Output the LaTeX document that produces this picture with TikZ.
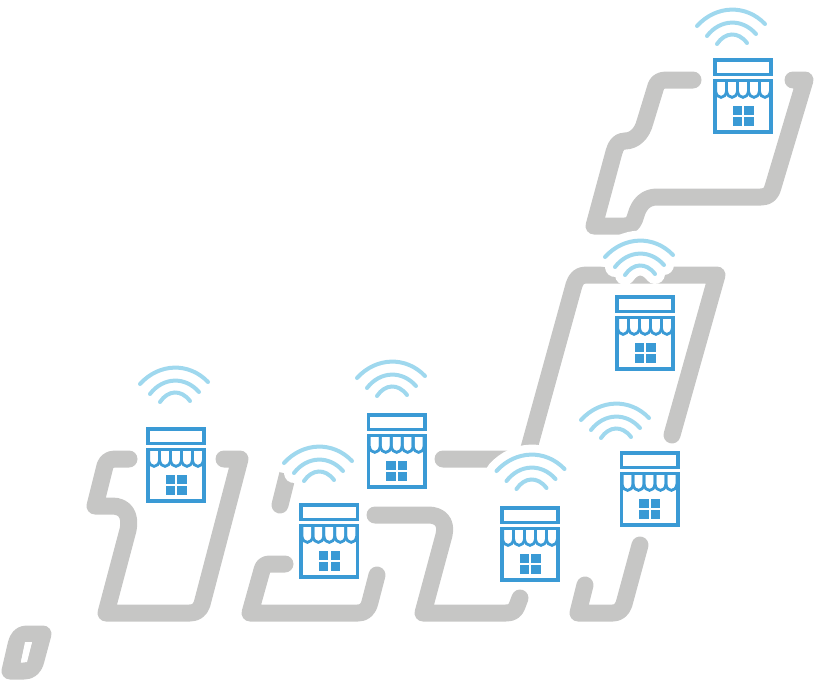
\documentclass[tikz,border=0pt]{standalone}
\definecolor{roadgrey}{HTML}{C6C6C5}
\definecolor{shopblue}{HTML}{3A9AD5}
\definecolor{wifiblue}{HTML}{9FD8EE}
\tikzset{
  road/.style={draw=roadgrey,line width=17pt,line cap=round,line join=round},
  wifiarc/.style={draw=wifiblue,line width=4pt,line cap=round},
  wifihalo/.style={draw=white,line width=20pt,line cap=round},
  shopline/.style={draw=shopblue,line width=3.6pt},
  awning/.style={draw=shopblue,line width=2.8pt},
  pane/.style={fill=shopblue,draw=none},
  pics/signal/.style={code={
    \draw[#1] (-34,16) .. controls (-15,-5) and (15,-6) .. (34,14);
    \draw[#1] (-24,26) .. controls (-11,9) and (11,8) .. (25,24);
    \draw[#1] (-14,34) .. controls (-6,22) and (7,21) .. (16,33);
  }},
  pics/shop/.style={code={
    \draw[shopline] (1.8,1.8) rectangle (58.2,16.5);
    \draw[shopline] (1.8,22.4) rectangle (58.2,74.2);
    \foreach \i in {0,...,4}{
      \pgfmathsetmacro{\xa}{2.6+\i*10.96}
      \pgfmathsetmacro{\xb}{\xa+10.96}
      \draw[awning] (\xa,22) -- (\xa,33) .. controls (\xa+1,41.5) and (\xb-1,41.5) .. (\xb,33) -- (\xb,22);
    }
    \fill[pane] (19.7,48.3) rectangle (29,57.3);
    \fill[pane] (31.3,48.3) rectangle (40.7,57.3);
    \fill[pane] (19.7,59.3) rectangle (29,68.3);
    \fill[pane] (31.3,59.3) rectangle (40.7,68.3);
  }}
}
\begin{document}
\begin{tikzpicture}[x=1pt,y=-1pt]
\useasboundingbox (0,0) rectangle (814,680);
% roads
\draw[road] (129,459) -- (115,459) .. controls (108,459) and (105,463) .. (104,470) -- (95,506) -- (112,506)
  .. controls (125,506) and (131,515) .. (128,530) -- (106,613) -- (190,613)
  .. controls (196,613) and (200,610) .. (202,604) -- (240,459) -- (224,459);
\draw[road] (280,505) -- (290,465);
\draw[road] (285,564) -- (270,564) .. controls (265,564) and (263,566) .. (262,570) -- (250,613) -- (358,613)
  .. controls (364,613) and (368,610) .. (370,602) -- (377,575);
\draw[road] (375,515) -- (428,515) .. controls (440,515) and (447,522) .. (444,535) -- (423,613) -- (506,613)
  .. controls (512,613) and (515,611) .. (517,606) -- (520,598);
\draw[road] (585,585) -- (578,613) -- (613,613) .. controls (618,613) and (622,610) .. (624,604) -- (640,545);
\draw[road] (443,459) -- (526,459) -- (574,285) .. controls (576,279) and (579,275) .. (586,275) -- (717,275) -- (672,435);
\draw[road] (693,80) -- (666,80) .. controls (660,80) and (657,83) .. (656,86) -- (645,122)
  .. controls (642,134) and (634,141) .. (625,141) .. controls (619,141) and (616,145) .. (614,152) -- (594,226) -- (625,226)
  .. controls (632,226) and (634,222) .. (636,215) .. controls (639,204) and (646,197) .. (657,197) -- (761,197)
  .. controls (768,197) and (771,194) .. (773,187) -- (805,80) -- (793,80);
% small ring bottom left
\draw[road] (10,671) -- (16,645) .. controls (18,637) and (21,634) .. (27,634) -- (43,634) -- (36,660)
  .. controls (34,668) and (30,671) .. (24,671) -- cycle;
\fill[white] (25,642) -- (32,642) -- (27,662) -- (21,662) -- cycle;
% halos
\foreach \x/\y in {639/241,530.5/455,318/447}{
  \pic at (\x,\y) {signal=wifihalo};
}
% signals
\foreach \x/\y in {174/368,731/10,639/241,615/404,530.5/455,318/447,391/362}{
  \pic at (\x,\y) {signal=wifiarc};
}
% shops
\foreach \x/\y in {146/427,713/58,615/295,619.5/451,500/506,299.3/503,366.7/413}{
  \pic at (\x,\y) {shop};
}
\end{tikzpicture}
\end{document}
